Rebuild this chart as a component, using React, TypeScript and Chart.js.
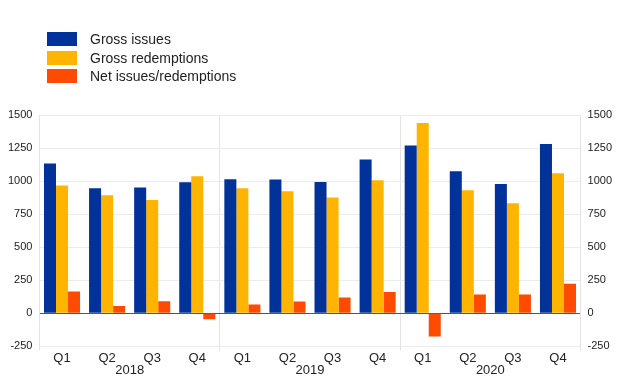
import React, { useEffect, useRef } from "react";
import { Chart, registerables } from "chart.js";

Chart.register(...registerables);

const quarters = ["Q1", "Q2", "Q3", "Q4", "Q1", "Q2", "Q3", "Q4", "Q1", "Q2", "Q3", "Q4"];
const years = ["2018", "2019", "2020"];
const grossIssues = [1133, 946, 951, 992, 1014, 1012, 994, 1164, 1270, 1075, 979, 1280];
const grossRedemptions = [967, 893, 857, 1037, 946, 923, 876, 1007, 1439, 931, 832, 1060];
const netIssues = [165, 56, 91, -45, 66, 89, 119, 162, -175, 142, 142, 223];
const seriesNames = ["Gross issues", "Gross redemptions", "Net issues/redemptions"];
const seriesColors = ["#003299", "#FFB400", "#FF4B00"];

const FONT = "'Liberation Sans', Arial, Helvetica, sans-serif";

const yearLabels = {
  id: "yearLabels",
  afterDraw(chart: any) {
    const { ctx, chartArea, scales } = chart;
    const x = scales.x;
    ctx.save();
    ctx.font = `13px ${FONT}`;
    ctx.fillStyle = "#222";
    ctx.textAlign = "center";
    ctx.textBaseline = "middle";
    years.forEach((y, i) => {
      const a = x.getPixelForTick(i * 4 + 1);
      const b = x.getPixelForTick(i * 4 + 2);
      ctx.fillText(y, (a + b) / 2, chartArea.bottom + 24);
    });
    ctx.restore();
  },
};

export default function App() {
  const ref = useRef<HTMLCanvasElement | null>(null);
  useEffect(() => {
    if (!ref.current) return;
    const values = [grossIssues, grossRedemptions, netIssues];
    const fmt = (v: any) => String(v);
    const chart = new Chart(ref.current, {
      type: "bar",
      data: {
        labels: quarters,
        datasets: values.map((v, i) => ({
          label: seriesNames[i],
          data: v,
          backgroundColor: seriesColors[i],
          borderWidth: 0,
          categoryPercentage: 0.8,
          barPercentage: 1.0,
        })),
      },
      options: {
        responsive: false,
        animation: false,
        layout: { padding: { top: 115, left: 1, right: 1, bottom: 21 } },
        plugins: { legend: { display: false }, tooltip: { enabled: false } },
        scales: {
          x: {
            position: "bottom",
            grid: {
              offset: true,
              drawOnChartArea: true,
              tickLength: 4,
              color: (ctx: any) =>
                ctx.index === undefined || ctx.index % 4 === 0 ? "#e3e3e3" : "rgba(0,0,0,0)",
            },
            border: { display: false },
            ticks: { color: "#222", font: { family: FONT, size: 13 }, padding: 0, maxRotation: 0 },
          },
          y: {
            position: "left",
            min: -250,
            max: 1500,
            ticks: { stepSize: 250, color: "#222", font: { family: FONT, size: 11 }, padding: 7, callback: fmt },
            grid: {
              drawTicks: false,
              color: (ctx: any) => (ctx.tick && ctx.tick.value === 0 ? "#555" : "#ececec"),
            },
            border: { display: true, color: "#e3e3e3" },
          },
          y2: {
            position: "right",
            min: -250,
            max: 1500,
            ticks: { stepSize: 250, color: "#222", font: { family: FONT, size: 11 }, padding: 7, callback: fmt },
            grid: { display: false, drawTicks: false },
            border: { display: true, color: "#e3e3e3" },
          },
        },
      },
      plugins: [yearLabels],
    });
    return () => chart.destroy();
  }, []);

  return (
    <div style={{ position: "fixed", left: 0, top: 0, width: 620, height: 387, background: "#fff" }}>
      <canvas ref={ref} width={620} height={387} style={{ position: "absolute", left: 0, top: 0 }} />
      <div style={{ position: "absolute", left: 47, top: 30, fontFamily: FONT, fontSize: 14, color: "#222" }}>
        {seriesNames.map((n, i) => (
          <div key={n} style={{ display: "flex", alignItems: "center", height: 18.5 }}>
            <span style={{ display: "inline-block", width: 30, height: 14, background: seriesColors[i], marginRight: 13 }} />
            <span>{n}</span>
          </div>
        ))}
      </div>
    </div>
  );
}
